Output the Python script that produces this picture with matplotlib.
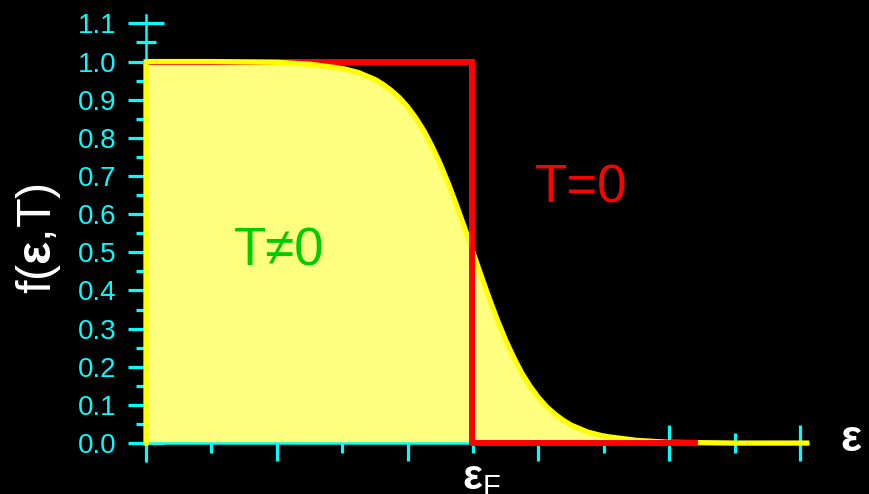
import matplotlib.pyplot as plt
from matplotlib.ticker import MultipleLocator, FormatStrFormatter

plt.rcParams['font.family'] = ['Liberation Sans', 'DejaVu Sans']
plt.rcParams['mathtext.fontset'] = 'custom'
plt.rcParams['mathtext.rm'] = 'Liberation Sans'
plt.rcParams['mathtext.bf'] = 'Liberation Sans:bold'

# Fermi-Dirac occupation at finite temperature (energy in arbitrary units, E_F = 5)
energy = [0.0, 0.5, 1.0, 1.5, 2.0, 2.5, 3.0, 3.25, 3.5, 3.625, 3.75, 3.875,
          4.0, 4.125, 4.25, 4.375, 4.5, 4.625, 4.75, 4.875, 5.0, 5.125, 5.25,
          5.375, 5.5, 5.625, 5.75, 5.875, 6.0, 6.125, 6.25, 6.375, 6.5, 6.75,
          7.0, 7.5, 8.0, 8.5, 9.0, 9.5, 10.0, 10.1]
occupation = [1.000, 1.000, 1.000, 0.999, 0.998, 0.993, 0.982, 0.971, 0.953,
              0.940, 0.924, 0.905, 0.881, 0.852, 0.818, 0.777, 0.731, 0.679,
              0.622, 0.562, 0.500, 0.438, 0.378, 0.321, 0.269, 0.223, 0.182,
              0.148, 0.119, 0.095, 0.076, 0.060, 0.047, 0.029, 0.018, 0.007,
              0.002, 0.001, 0.000, 0.000, 0.000, 0.000]

# Step function at T = 0
step_x = [0.0, 4.98, 4.98, 8.4]
step_y = [1.0, 1.0, 0.0, 0.0]

fermi_energy = 5.0

cyan = '#00FFFF'
fig = plt.figure(figsize=(8.7, 4.94), dpi=100, facecolor='black')
ax = fig.add_axes([0.1678, 0.0668, 0.7609, 0.9028])
ax.set_facecolor('black')
ax.set_axisbelow(True)  # ticks sit under the shaded area

ax.fill_between(energy, occupation, 0, color='#FFFF80', lw=0, zorder=1)
ax.plot(step_x, step_y, color='red', lw=4.3, solid_capstyle='projecting',
        clip_on=False, zorder=2)
ax.plot([energy[0]] + energy, [0.0] + occupation, color='yellow', lw=3.8,
        solid_joinstyle='round', clip_on=False, zorder=3)
ax.plot(step_x[1:], step_y[1:], color='red', lw=4.3, solid_capstyle='projecting',
        clip_on=False, zorder=4)

ax.set_xlim(0, 10.12)
ax.set_ylim(-0.047, 1.122)

for side in ['top', 'right']:
    ax.spines[side].set_visible(False)
ax.spines['bottom'].set_position(('data', 0))
for side in ['left', 'bottom']:
    ax.spines[side].set_color(cyan)
    ax.spines[side].set_linewidth(1.8)
    ax.spines[side].set_zorder(1.5)

ax.xaxis.set_major_locator(MultipleLocator(2))
ax.xaxis.set_minor_locator(MultipleLocator(1))
ax.yaxis.set_major_locator(MultipleLocator(0.1))
ax.yaxis.set_minor_locator(MultipleLocator(0.05))
ax.yaxis.set_major_formatter(FormatStrFormatter('%.1f'))
ax.set_xticklabels([])
ax.tick_params(which='both', direction='inout', color=cyan, width=2.3)
ax.tick_params(which='major', length=26, pad=8, labelsize=20, labelcolor=cyan)
ax.tick_params(which='minor', length=14)

ax.text(-0.163, 0.5, r'f($\mathbf{ε}$,T)', transform=ax.transAxes, rotation=90,
        color='white', fontsize=35, ha='center', va='center')
ax.text(5.95, 0.63, 'T=0', color='red', fontsize=38, ha='left', va='baseline')
ax.text(1.34, 0.465, 'T≠0', color='#00CC00', fontsize=38, ha='left',
        va='baseline')
ax.text(fermi_energy + 0.13, -0.04, r'$\mathbf{ε}_{\mathrm{F}}$', color='white',
        fontsize=30, ha='center', va='top', clip_on=False)
ax.text(10.78, 0.01, r'$\mathbf{ε}$', color='white', fontsize=32,
        ha='center', va='center', clip_on=False)

fig.savefig('out.png', dpi=100, facecolor='black')
